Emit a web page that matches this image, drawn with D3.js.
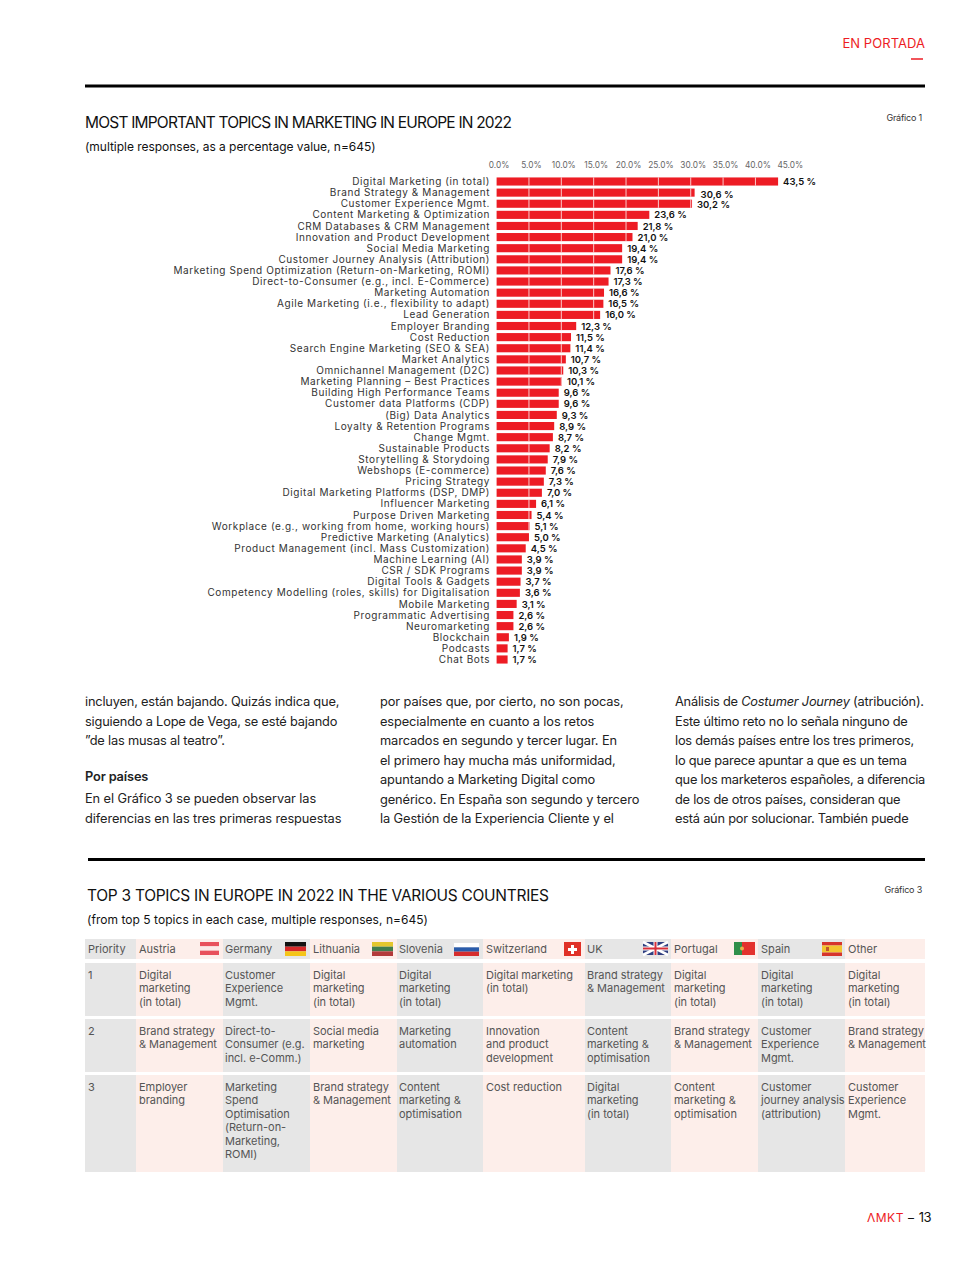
<!DOCTYPE html>
<html><head><meta charset="utf-8">
<script src="https://cdn.jsdelivr.net/npm/d3@7/dist/d3.min.js"></script>
<style>html,body{margin:0;background:#fff}svg{display:block}text{font-family:Inter,"Noto Sans",sans-serif}</style>
</head><body><svg id="c" width="977" height="1262"></svg>
<script>
const topics=["Digital Marketing (in total)","Brand Strategy & Management","Customer Experience Mgmt.","Content Marketing & Optimization","CRM Databases & CRM Management","Innovation and Product Development","Social Media Marketing","Customer Journey Analysis (Attribution)","Marketing Spend Optimization (Return-on-Marketing, ROMI)","Direct-to-Consumer (e.g., incl. E-Commerce)","Marketing Automation","Agile Marketing (i.e., flexibility to adapt)","Lead Generation","Employer Branding","Cost Reduction","Search Engine Marketing (SEO & SEA)","Market Analytics","Omnichannel Management (D2C)","Marketing Planning – Best Practices","Building High Performance Teams","Customer data Platforms (CDP)","(Big) Data Analytics","Loyalty & Retention Programs","Change Mgmt.","Sustainable Products","Storytelling & Storydoing","Webshops (E-commerce)","Pricing Strategy","Digital Marketing Platforms (DSP, DMP)","Influencer Marketing","Purpose Driven Marketing","Workplace (e.g., working from home, working hours)","Predictive Marketing (Analytics)","Product Management (incl. Mass Customization)","Machine Learning (AI)","CSR / SDK Programs","Digital Tools & Gadgets","Competency Modelling (roles, skills) for Digitalisation","Mobile Marketing","Programmatic Advertising","Neuromarketing","Blockchain","Podcasts","Chat Bots"];
const values=[43.5,30.6,30.2,23.6,21.8,21.0,19.4,19.4,17.6,17.3,16.6,16.5,16.0,12.3,11.5,11.4,10.7,10.3,10.1,9.6,9.6,9.3,8.9,8.7,8.2,7.9,7.6,7.3,7.0,6.1,5.4,5.1,5.0,4.5,3.9,3.9,3.7,3.6,3.1,2.6,2.6,1.9,1.7,1.7];
const ticks=[0,5,10,15,20,25,30,35,40,45];
const columnsBody=[
 ["incluyen, están bajando. Quizás indica que,","siguiendo a Lope de Vega, se esté bajando","”de las musas al teatro”."],
 ["por países que, por cierto, no son pocas,","especialmente en cuanto a los retos","marcados en segundo y tercer lugar. En","el primero hay mucha más uniformidad,","apuntando a Marketing Digital como","genérico. En España son segundo y tercero","la Gestión de la Experiencia Cliente y el"],
 ["Análisis de |Costumer Journey| (atribución).","Este último reto no lo señala ninguno de","los demás países entre los tres primeros,","lo que parece apuntar a que es un tema","que los marketeros españoles, a diferencia","de los de otros países, consideran que","está aún por solucionar. También puede"]];
const subhead="Por países";
const subBody=["En el Gráfico 3 se pueden observar las","diferencias en las tres primeras respuestas"];
const countries=["Priority","Austria","Germany","Lithuania","Slovenia","Switzerland","UK","Portugal","Spain","Other"];
const row1=["1","Digital\nmarketing\n(in total)","Customer\nExperience\nMgmt.","Digital\nmarketing\n(in total)","Digital\nmarketing\n(in total)","Digital marketing\n(in total)","Brand strategy\n& Management","Digital\nmarketing\n(in total)","Digital\nmarketing\n(in total)","Digital\nmarketing\n(in total)"];
const row2=["2","Brand strategy\n& Management","Direct-to-\nConsumer (e.g.\nincl. e-Comm.)","Social media\nmarketing","Marketing\nautomation","Innovation\nand product\ndevelopment","Content\nmarketing &\noptimisation","Brand strategy\n& Management","Customer\nExperience\nMgmt.","Brand strategy\n& Management"];
const row3=["3","Employer\nbranding","Marketing\nSpend\nOptimisation\n(Return-on-\nMarketing,\nROMI)","Brand strategy\n& Management","Content\nmarketing &\noptimisation","Cost reduction","Digital\nmarketing\n(in total)","Content\nmarketing &\noptimisation","Customer\njourney analysis\n(attribution)","Customer\nExperience\nMgmt."];

const RED="#ed1c24", svg=d3.select("#c");
const txt=(x,y,s,o={})=>svg.append("text").attr("x",x).attr("y",y).text(s)
  .attr("font-size",o.size||12).attr("fill",o.fill||"#111").attr("text-anchor",o.anchor||"start")
  .attr("letter-spacing",o.ls||0).attr("font-weight",o.w||400);
const rule=(x1,x2,y,w,c)=>svg.append("line").attr("x1",x1).attr("x2",x2).attr("y1",y).attr("y2",y).attr("stroke",c||"#000").attr("stroke-width",w);

// page furniture
txt(925,48,"EN PORTADA",{size:13,fill:RED,anchor:"end",ls:.05});
rule(911,923,59,1.5,RED);
rule(85,925,86,3);
txt(922,121,"Gráfico 1",{size:9,fill:"#333",anchor:"end",ls:-.2});
txt(85,128,"MOST IMPORTANT TOPICS IN MARKETING IN EUROPE IN 2022",{size:15.5,ls:-.8});
txt(85,151,"(multiple responses, as a percentage value, n=645)",{size:12,ls:-.03});

// bar chart
const x=d3.scaleLinear().domain([0,45]).range([496.6,787.8]);
const y=d3.scaleBand().domain(topics).range([176,665]).paddingInner(.27).paddingOuter(.13);
const g=svg.append("g");
g.selectAll("rect").data(values).join("rect").attr("x",x(0)).attr("y",(d,i)=>y(topics[i])).attr("width",d=>x(d)-x(0)).attr("height",y.bandwidth()).attr("fill",RED);
// white gridlines over the bars, only on bars long enough to reach them
ticks.slice(1).forEach(t=>{
  const rows=topics.filter((n,i)=>values[i]>t);
  g.append("g").selectAll("line").data(rows).join("line").attr("x1",x(t)).attr("x2",x(t)).attr("y1",d=>y(d)).attr("y2",d=>y(d)+y.bandwidth()).attr("stroke","#fff").attr("stroke-opacity",.85).attr("stroke-width",.9);
});
svg.append("g").selectAll("text").data(ticks).join("text").attr("x",d=>x(d)+2.5).attr("y",168).attr("text-anchor","middle").attr("font-size",8.3).attr("fill","#666").text(d=>d.toFixed(1)+"%");
svg.append("g").selectAll("text").data(topics).join("text").attr("x",490).attr("y",d=>y(d)+y.bandwidth()/2+3.6).attr("text-anchor","end").attr("font-size",10).attr("letter-spacing",.58).attr("fill","#333").text(d=>d);
svg.append("g").selectAll("text").data(values).join("text").attr("x",(d,i)=>x(d)+(i==1?6:5)).attr("y",(d,i)=>y(topics[i])+y.bandwidth()/2+3.6+(i==1?2:i==2?1:0)).attr("font-size",9.5).attr("font-weight",600).attr("fill","#111").text(d=>d.toFixed(1).replace(".",",")+" %");

// body text
const bodyX=[85,380,675], B={size:12.8,fill:"#222"}, bodyLs=[-.18,-.1,-.22];
columnsBody.forEach((c,k)=>c.forEach((s,i)=>{
  const t=txt(bodyX[k],706+i*19.5,"",{...B,ls:bodyLs[k]});
  s.split("|").forEach((p,j)=>t.append("tspan").attr("font-style",j==1?"italic":"normal").text(p));
}));
txt(85,781,subhead,{...B,w:600,ls:-.15});
subBody.forEach((s,i)=>txt(85,803+i*20,s,{...B,ls:-.08}));

// table
rule(88,925,859.5,3);
txt(922,893,"Gráfico 3",{size:9,fill:"#333",anchor:"end",ls:-.2});
txt(87,901,"TOP 3 TOPICS IN EUROPE IN 2022 IN THE VARIOUS COUNTRIES",{size:15.5,ls:-.28});
txt(87,924,"(from top 5 topics in each case, multiple responses, n=645)",{size:12,ls:.04});
const edges=[85,136,223,310,397,483,585,671,758,845,925];
const bands=[[939,959],[963,1016],[1019,1072],[1075,1172]];
const GREY="#e6e6e6",PINK="#fdeeea",TC="#555";
const pad=[3,3,2,3,2,3,2,3,3,3];
bands.forEach(([a,b])=>countries.forEach((c,i)=>svg.append("rect").attr("x",edges[i]).attr("y",a).attr("width",edges[i+1]-edges[i]).attr("height",b-a).attr("fill",i%2?PINK:GREY)));
countries.forEach((c,i)=>txt(edges[i]+pad[i],953,c,{size:11,fill:TC}));
[row1,row2,row3].forEach((r,k)=>r.forEach((cell,i)=>cell.split("\n").forEach((s,j)=>txt(edges[i]+pad[i],979+k*56+j*13.4,s,{size:11,fill:TC,ls:-.03}))));

// flags
const stripes=(x0,y0,w,h,cols)=>cols.forEach((c,i)=>svg.append("rect").attr("x",x0).attr("y",y0+i*h/cols.length).attr("width",w).attr("height",h/cols.length).attr("fill",c));
stripes(200,942,19,13,["#e8505b","#fbe9e7","#e8505b"]);
stripes(285,942,21,14,["#111","#d62828","#f5c518"]);
stripes(372,942,21,14,["#e3c72e","#3f7d4e","#b33a3a"]);
stripes(454,943,25,13,["#fff","#2a5caa","#d62d2d"]);
svg.append("rect").attr("x",564).attr("y",942).attr("width",17).attr("height",14).attr("fill","#e03127");
svg.append("path").attr("d","M571 945h3v3h3v3h-3v3h-3v-3h-3v-3h3z").attr("fill","#fff");
svg.append("rect").attr("x",643).attr("y",942).attr("width",25).attr("height",13).attr("fill","#2f3f80");
svg.append("path").attr("d","M643 942L668 955M668 942L643 955").attr("stroke","#fff").attr("stroke-width",2.6);
svg.append("path").attr("d","M655.5 942V955M643 948.5H668").attr("stroke","#fff").attr("stroke-width",4);
svg.append("path").attr("d","M655.5 942V955M643 948.5H668").attr("stroke","#d8303a").attr("stroke-width",2);
svg.append("rect").attr("x",734).attr("y",942).attr("width",21).attr("height",13).attr("fill","#e3312d");
svg.append("rect").attr("x",734).attr("y",942).attr("width",8).attr("height",13).attr("fill","#2f8f4a");
svg.append("circle").attr("cx",742).attr("cy",948.5).attr("r",2).attr("fill","#e8b04a");
stripes(822,942,20,14,["#d6342c","#f3c52f","#f3c52f","#d6342c"]);
svg.append("rect").attr("x",826).attr("y",947).attr("width",3).attr("height",4).attr("fill","#c0562a");

// footer
txt(867,1222,"ΛMKT",{size:12,fill:RED,ls:.5});
txt(908,1222,"–",{size:12});
txt(931,1222,"13",{size:13,anchor:"end",ls:-.5});
</script></body></html>
